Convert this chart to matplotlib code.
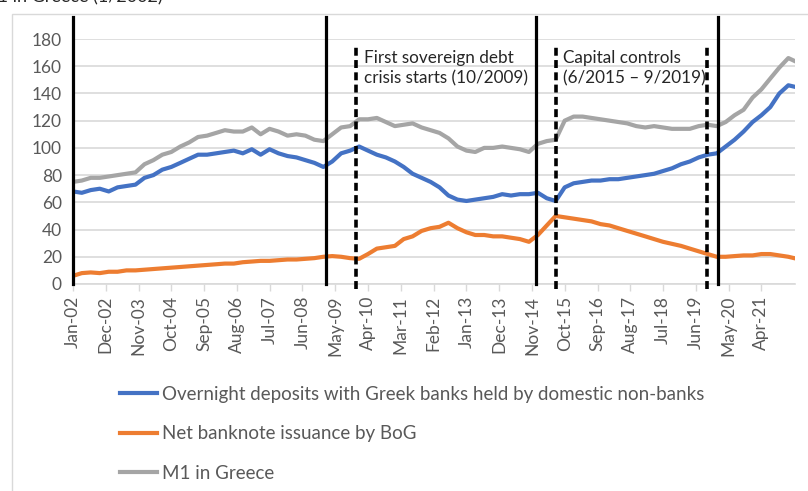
import pandas as pd
import matplotlib.pyplot as plt
from matplotlib.patches import Rectangle

plt.rcParams['font.family'] = ['Lato', 'DejaVu Sans']

# quarterly readings from Jan-02 to Jan-22, plus the last point (Mar-22)
dates = list(pd.date_range('2002-01-01', '2022-01-01', freq='3MS')) + [pd.Timestamp('2022-03-01')]

overnight = [68, 67, 69, 70, 68, 71, 72, 73, 78, 80,
             84, 86, 89, 92, 95, 95, 96, 97, 98, 96,
             99, 95, 99, 96, 94, 93, 91, 89, 86, 90,
             96, 98, 101, 98, 95, 93, 90, 86, 81, 78,
             75, 71, 65, 62, 61, 62, 63, 64, 66, 65,
             66, 66, 67, 63, 61, 71, 74, 75, 76, 76,
             77, 77, 78, 79, 80, 81, 83, 85, 88, 90,
             93, 95, 96, 101, 106, 112, 119, 124, 130, 140,
             146, 145]

banknotes = [6, 8, 8.5, 8, 9, 9, 10, 10, 10.5, 11,
             11.5, 12, 12.5, 13, 13.5, 14, 14.5, 15, 15, 16,
             16.5, 17, 17, 17.5, 18, 18, 18.5, 19, 20, 20.5,
             20, 19, 18.5, 22, 26, 27, 28, 33, 35, 39,
             41, 42, 45, 41, 38, 36, 36, 35, 35, 34,
             33, 31, 36, 43, 50, 49, 48, 47, 46, 44,
             43, 41, 39, 37, 35, 33, 31, 29.5, 28, 26,
             24, 22, 20, 20, 20.5, 21, 21, 22, 22, 21,
             20, 19]

m1 = [75, 76, 78, 78, 79, 80, 81, 82, 88, 91,
      95, 97, 101, 104, 108, 109, 111, 113, 112, 112,
      115, 110, 114, 112, 109, 110, 109, 106, 105, 110,
      115, 116, 121, 121, 122, 119, 116, 117, 118, 115,
      113, 111, 107, 101, 98, 97, 100, 100, 101, 100,
      99, 97, 103, 105, 106, 120, 123, 123, 122, 121,
      120, 119, 118, 116, 115, 116, 115, 114, 114, 114,
      116, 117, 116, 119, 124, 128, 137, 143, 151, 159,
      166, 164]

labels = ['Overnight deposits with Greek banks held by domestic non-banks',
          'Net banknote issuance by BoG',
          'M1 in Greece']
colors = ['#4472C4', '#ED7D31', '#A5A5A5']

# event lines
solid_lines = ['2002-01-01', '2009-02-01', '2014-12-10', '2020-01-10']
dashed_lines = ['2009-12-01', '2015-07-01', '2019-09-20']

tick_dates = pd.date_range('2002-01-01', '2021-04-01', freq='11MS')

fig = plt.figure(figsize=(8.08, 4.91), dpi=100)
ax = fig.add_axes([73 / 808, 1 - 284 / 491, (795 - 73) / 808, (284 - 39) / 491])

ax.plot(dates, overnight, color=colors[0], lw=3, label=labels[0], zorder=3)
ax.plot(dates, banknotes, color=colors[1], lw=3, label=labels[1], zorder=3)
ax.plot(dates, m1, color=colors[2], lw=3, label=labels[2], zorder=3)

for d in solid_lines:
    d = pd.Timestamp(d)
    ax.plot([d, d], [0, 196], color='black', lw=2.3, clip_on=False, zorder=4)
for d in dashed_lines:
    d = pd.Timestamp(d)
    ax.plot([d, d], [-4, 175], color='black', lw=2.6, ls=(0, (2.2, 1.2)), clip_on=False, zorder=4)

ax.text(pd.Timestamp('2010-02-15'), 172, 'First sovereign debt\ncrisis starts (10/2009)',
        fontsize=12.3, color='#262626', va='top', linespacing=1.35)
ax.text(pd.Timestamp('2015-09-15'), 172, 'Capital controls\n(6/2015 \u2013 9/2019)',
        fontsize=12.3, color='#262626', va='top', linespacing=1.35)

ax.set_ylim(0, 180)
ax.set_xlim(pd.Timestamp('2002-01-01'), pd.Timestamp('2022-03-10'))
ax.set_yticks(range(0, 181, 20))
ax.set_xticks(tick_dates)
ax.set_xticklabels([d.strftime('%b-%y') for d in tick_dates], rotation=90)
ax.tick_params(axis='x', colors='#d9d9d9', labelcolor='#595959', labelsize=12.5, length=5, width=1)
ax.tick_params(axis='y', labelcolor='#595959', labelsize=12.5, length=0, pad=8)
ax.grid(axis='y', color='#d9d9d9', lw=1.2)
ax.set_axisbelow(True)
for s in ['top', 'right', 'left']:
    ax.spines[s].set_visible(False)
ax.spines['bottom'].set_color('#d9d9d9')
ax.spines['bottom'].set_linewidth(1.2)

fig.legend(loc='upper left', bbox_to_anchor=(103 / 808, 1 - 369 / 491), frameon=False,
           fontsize=13.5, handlelength=2.0, handletextpad=0.25, labelspacing=1.2,
           labelcolor='#595959')

# outer chart border and the clipped heading above it
fig.patches.append(Rectangle((12 / 808, -0.1), 1.2, 1.1 - 14 / 491, transform=fig.transFigure,
                             fill=False, edgecolor='#d9d9d9', lw=1))
fig.text(163 / 808, 1 - 2 / 491, 'M1 in Greece (1/2002)', ha='right', va='baseline',
         fontsize=13, color='#262626')

plt.savefig('out.png', dpi=100)
